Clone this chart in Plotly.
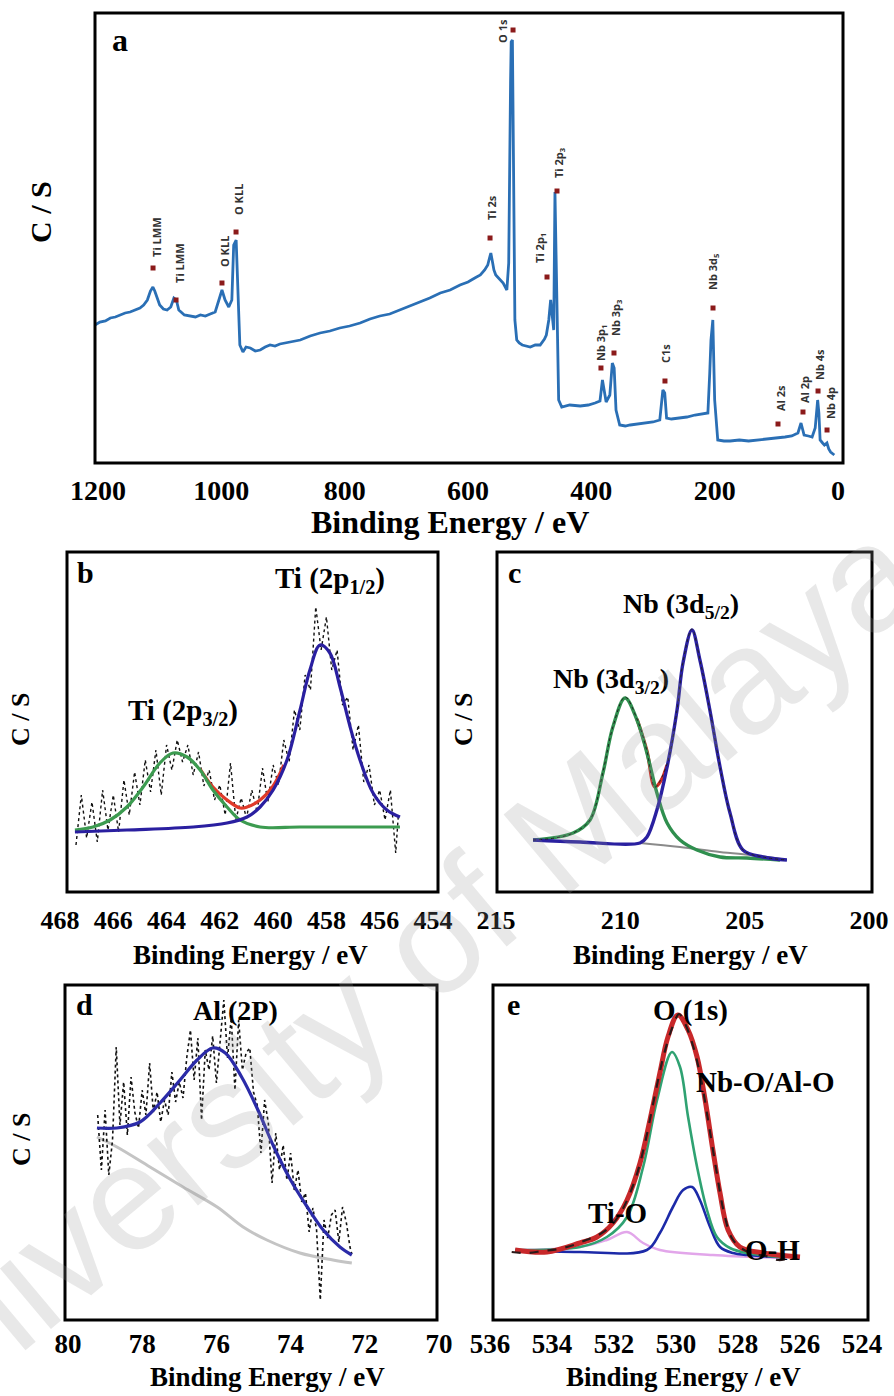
import plotly.graph_objects as go

W, H = 894, 1396


def px(x):
    return x / W


def py(y):
    return 1 - y / H


SERIF = "Liberation Serif"

# ---------------- (a) survey spectrum ----------------
survey_be = [1205, 1197, 1188, 1180, 1172, 1164, 1156, 1148, 1140, 1132, 1126, 1120, 1115, 1111,
             1108, 1105, 1100, 1094, 1088, 1082, 1077, 1073, 1069, 1060, 1050, 1042, 1034, 1026,
             1018, 1010, 1004, 999, 994, 988, 983, 980, 976, 973, 970, 965, 960, 953, 945, 937,
             929, 921, 913, 905, 890, 872, 856, 840, 824, 808, 792, 775, 759, 743, 727, 710, 694,
             678, 662, 645, 629, 613, 600, 589, 580, 573, 568, 566, 563, 560, 558, 555, 551, 547,
             543, 537, 534, 531, 530, 528, 526, 524, 521, 517, 512, 505, 499, 491, 483, 476, 473,
             469, 466, 463, 461, 459, 457, 455, 453, 448, 435, 418, 405, 394, 386, 382, 380, 376,
             370, 366, 363, 360, 354, 345, 337, 325, 313, 300, 289, 284, 281, 278, 270, 256, 245,
             232, 220, 211, 208, 206, 203, 200, 195, 185, 175, 160, 145, 127, 110, 98, 86, 75, 65,
             60, 57, 55, 48, 42, 37, 33, 31, 29, 25, 22, 18, 15, 12, 9, 6]
survey_cs = [138, 141, 142, 145, 146, 148, 150, 151, 153, 155, 158, 163, 172, 176,
             172, 166, 158, 154, 153, 156, 165, 163, 153, 148, 147, 146, 148, 147,
             149, 151, 163, 173, 163, 156, 163, 218, 223, 163, 118, 111, 116, 115, 112, 113,
             116, 118, 117, 119, 121, 123, 127, 130, 132, 135, 137, 140, 144, 147, 149, 153, 157,
             161, 165, 170, 173, 178, 181, 185, 188, 193, 198, 203, 210, 200, 193, 188, 185, 182,
             180, 173, 200, 380, 421, 423, 300, 143, 123, 120, 118, 117, 116, 118, 118, 124, 128,
             143, 163, 145, 133, 271, 200, 130, 63, 56, 58, 57, 58, 60, 62, 83, 75, 61,
             68, 100, 95, 53, 38, 37, 38, 39, 40, 41, 43, 73, 70, 45, 44, 45, 46,
             48, 49, 50, 90, 123, 143, 63, 23, 22, 22, 23, 22, 23, 24, 25, 26, 27, 30,
             40, 34, 28, 27, 26, 35, 63, 50, 23, 20, 18, 20, 14, 11, 9, 8]

peak_names = ["Ti LMM", "Ti LMM", "O KLL", "O KLL", "Ti 2s", "O 1s", "Ti 2p<sub>1</sub>",
              "Ti 2p<sub>3</sub>", "Nb 3p<sub>1</sub>", "Nb 3p<sub>3</sub>", "C1s",
              "Nb 3d<sub>5</sub>", "Al 2s", "Al 2p", "Nb 4s", "Nb 4p"]
peak_mark_be = [1110.8, 1073.5, 999.0, 976.2, 564.3, 527.0, 471.9, 455.7, 384.4, 363.3, 280.6,
                202.7, 97.3, 56.8, 32.4, 17.8]
peak_mark_cs = [195, 163, 180, 231, 225, 433, 186, 272, 95, 110, 82, 155, 39, 51, 72, 33]
peak_text_be = [1106.0, 1068.7, 995.7, 973.0, 562.7, 545.0, 483.3, 452.4, 384.4, 360.0, 280.6,
                202.7, 94.1, 55.2, 30.8, 13.0]
peak_text_cs = [226, 200, 211, 263, 255, 432, 215, 300, 120, 145, 110, 191, 65, 74, 98, 60]

# ---------------- (b) Ti 2p ----------------
ti_be = [467.4, 467.2, 467.0, 466.8, 466.6, 466.4, 466.2, 466.0, 465.8, 465.6, 465.4, 465.2,
         465.0, 464.8, 464.6, 464.4, 464.2, 464.0, 463.8, 463.6, 463.4, 463.2, 463.0, 462.8,
         462.6, 462.4, 462.2, 462.0, 461.8, 461.6, 461.4, 461.2, 461.0, 460.8, 460.6, 460.4,
         460.2, 460.0, 459.8, 459.6, 459.4, 459.2, 459.0, 458.8, 458.6, 458.4, 458.2, 458.0,
         457.8, 457.6, 457.4, 457.2, 457.0, 456.8, 456.6, 456.4, 456.2, 456.0, 455.8, 455.6,
         455.4, 455.3]
ti_cs = [47, 97, 54, 90, 50, 102, 62, 97, 60, 112, 77, 120, 87, 132, 100, 142, 97, 147, 122,
         152, 130, 147, 117, 140, 106, 122, 92, 107, 77, 129, 72, 94, 74, 102, 80, 124, 90, 127,
         107, 152, 130, 182, 162, 217, 202, 285, 242, 275, 222, 242, 187, 195, 142, 167, 110, 127,
         87, 102, 72, 102, 39, 77]
ti_fit_be = [467.44, 466.76, 466.12, 465.49, 464.88, 464.25, 463.76, 463.23, 462.74, 462.26,
             461.73, 461.24, 460.49, 459.0, 457.0, 455.24]
ti_fit_32 = [62, 65, 72, 85, 105, 129, 139, 135, 122, 102, 85, 72, 65, 65, 65, 65]
ti_bg_be = [467.44, 465.49, 463.0, 461.73, 460.98, 460.49, 460.0, 459.48, 458.99, 458.62,
            458.24, 457.87, 457.49, 457.11, 456.74, 456.25, 455.73, 455.24]
ti_fit_12 = [60, 62, 65, 69, 75, 85, 102, 132, 182, 222, 247, 239, 205, 165, 132, 99, 82, 75]
ti_env_be = [462.74, 462.26, 461.73, 461.24, 460.98, 460.49, 460.0, 459.6]
ti_env = [123, 105, 92, 84, 85, 92, 106, 127]

# ---------------- (c) Nb 3d ----------------
nb_be = [213.51, 212.63, 211.90, 211.22, 210.70, 210.30, 209.81, 209.33, 208.93, 208.61,
         208.12, 207.72, 207.48, 207.12, 206.80, 206.40, 205.99, 205.59, 205.07, 204.26, 203.30]
nb_cs = [52, 54, 59, 72, 120, 165, 195, 173, 141, 105, 128, 182, 230, 263, 232, 182, 125, 79,
         42, 35, 32]
nb32_be = [213.51, 211.90, 211.22, 210.70, 210.30, 209.81, 209.33, 208.93, 208.53, 208.12,
           207.60, 206.92, 205.99, 204.91, 203.58]
nb32_cs = [52, 59, 72, 119, 165, 194, 172, 139, 99, 69, 52, 42, 35, 34, 32]
nb52_be = [213.51, 211.62, 209.21, 208.93, 208.53, 208.12, 207.72, 207.48, 207.12, 206.80,
           206.40, 205.99, 205.59, 205.07, 204.26, 203.30]
nb52_cs = [52, 50, 49, 55, 82, 125, 182, 229, 262, 232, 182, 125, 79, 42, 35, 32]
nb_bg_be = [209.21, 207.60, 206.0, 204.4, 203.30]
nb_bg_cs = [49, 45, 40, 36, 32]
# summed envelope, visible only in the valley between the two components
nb_env_be = [209.33, 208.93, 208.61, 208.35, 208.12]
nb_env_cs = [173, 141, 105, 112, 127]

# ---------------- (d) Al 2p ----------------
al_be = [79.2, 79.1, 79.0, 78.9, 78.8, 78.7, 78.6, 78.5, 78.4, 78.3, 78.2, 78.1, 78.0, 77.9,
         77.8, 77.7, 77.6, 77.5, 77.4, 77.3, 77.2, 77.1, 77.0, 76.9, 76.8, 76.7, 76.6, 76.5,
         76.4, 76.3, 76.2, 76.1, 76.0, 75.9, 75.8, 75.7, 75.6, 75.5, 75.4, 75.3, 75.2, 75.1,
         75.0, 74.9, 74.8, 74.7, 74.6, 74.5, 74.4, 74.3, 74.2, 74.1, 74.0, 73.9, 73.8, 73.7,
         73.6, 73.5, 73.4, 73.3, 73.2, 73.1, 73.0, 72.9, 72.8, 72.7, 72.6, 72.5, 72.4, 72.35]
al_cs = [205, 150, 210, 145, 180, 273, 195, 238, 185, 243, 208, 192, 230, 205,
         257, 208, 228, 198, 220, 205, 248, 218, 238, 222, 262, 290, 240, 282,
         200, 270, 250, 284, 237, 275, 320, 262, 302, 230, 300, 250, 267, 272, 228,
         215, 167, 220, 197, 137, 187, 150, 175, 140, 167, 130, 150, 118, 127, 88, 112,
         90, 20, 100, 82, 105, 110, 78, 113, 98, 73, 66]
al_fit_be = [79.22, 78.68, 78.06, 77.52, 76.98, 76.52, 76.10, 75.76, 75.32, 74.88, 74.45,
             74.0, 73.55, 73.12, 72.67, 72.35]
al_fit_cs = [192, 192, 198, 217, 240, 260, 272, 267, 243, 210, 173, 140, 113, 90, 73, 65]
al_bg_be = [79.22, 78.68, 77.79, 76.90, 75.98, 75.28, 74.64, 73.75, 72.86, 72.35]
al_bg_cs = [183, 173, 153, 133, 113, 93, 80, 67, 60, 57]

# ---------------- (e) O 1s ----------------
o_be = [535.3, 534.8, 534.3, 533.8, 533.3, 532.9, 532.5, 532.1, 531.7, 531.3, 531.0, 530.7,
        530.4, 530.1, 529.9, 529.7, 529.45, 529.2, 528.95, 528.7, 528.45, 528.2, 527.9, 527.5,
        527.1, 526.7, 526.3]
o_cs = [68, 67, 69, 71, 75, 80, 85, 94, 112, 142, 177, 222, 264, 294, 306, 296, 274, 242, 197,
        150, 107, 82, 72, 66, 64, 60, 62]
o_env_be = [535.19, 534.16, 533.1, 532.55, 532.03, 531.58, 531.16, 530.84, 530.52, 530.26,
            529.94, 529.61, 529.32, 529.06, 528.81, 528.58, 528.32, 527.94, 527.19, 526.0]
o_env_cs = [70, 68, 77, 83, 97, 120, 157, 200, 247, 283, 305, 290, 263, 220, 170, 127, 90, 73,
            67, 63]
o_nbal_be = [535.19, 533.1, 532.23, 531.58, 531.06, 530.61, 530.13, 529.87, 529.61, 529.32,
             529.0, 528.68, 528.26, 527.71, 526.65]
o_nbal_cs = [70, 73, 83, 103, 153, 220, 268, 253, 203, 153, 110, 83, 72, 67, 63]
o_oh_be = [535.19, 533.1, 530.94, 530.52, 530.1, 529.77, 529.48, 529.23, 528.9, 528.58,
           528.16, 527.71, 526.65]
o_oh_cs = [70, 68, 70, 87, 113, 130, 133, 120, 93, 73, 67, 65, 63]
o_tio_be = [535.19, 533.1, 532.23, 531.58, 531.06, 530.52, 528.81, 526.65]
o_tio_cs = [70, 73, 80, 88, 77, 70, 65, 62]

fig = go.Figure()


def line(x, y, ax, color, width, dash="solid", shape="linear"):
    fig.add_trace(go.Scatter(x=x, y=y, mode="lines", xaxis="x" + ax, yaxis="y" + ax,
                             line=dict(color=color, width=width, dash=dash, shape=shape),
                             showlegend=False, hoverinfo="skip"))


# (a)
line(survey_be, survey_cs, "", "#2a6fb5", 2.8)
fig.add_trace(go.Scatter(x=peak_mark_be, y=peak_mark_cs, mode="markers", xaxis="x", yaxis="y",
                         marker=dict(symbol="square", size=5, color="#8b1a1a"),
                         showlegend=False, hoverinfo="skip"))

# (b)
line(ti_be, ti_cs, "2", "#111111", 1.4, "dot")
line(ti_env_be, ti_env, "2", "#e03a2a", 3.2, shape="spline")
line(ti_fit_be, ti_fit_32, "2", "#3c9b50", 3.2, shape="spline")
line(ti_bg_be, ti_fit_12, "2", "#2a1fa0", 3.2, shape="spline")

# (c)
line(nb_env_be, nb_env_cs, "3", "#d02a22", 3.4, shape="spline")
line(nb_bg_be, nb_bg_cs, "3", "#8a8a8a", 2, shape="spline")
line(nb32_be, nb32_cs, "3", "#2f8f4e", 3.4, shape="spline")
line(nb52_be, nb52_cs, "3", "#2a20a0", 3.4, shape="spline")
line(nb_be, nb_cs, "3", "#222222", 1.0, "dot", shape="spline")

# (d)
line(al_bg_be, al_bg_cs, "4", "#c4c4c4", 3, shape="spline")
line(al_be, al_cs, "4", "#111111", 1.6, "dot")
line(al_fit_be, al_fit_cs, "4", "#2b2ba8", 3.2, shape="spline")

# (e)
line(o_tio_be, o_tio_cs, "5", "#e2a6ea", 2.4, shape="spline")
line(o_oh_be, o_oh_cs, "5", "#1c2aa8", 2.6, shape="spline")
line(o_nbal_be, o_nbal_cs, "5", "#2fa272", 2.6, shape="spline")
line(o_env_be, o_env_cs, "5", "#c8282a", 5, shape="spline")
line(o_be, o_cs, "5", "#2a1a1a", 2.2, "dash", shape="spline")

annotations = []


def text(x, y, t, size, angle=0, family=SERIF, color="black", xanchor="center",
         yanchor="middle", xref="paper", yref="paper"):
    annotations.append(dict(x=x, y=y, xref=xref, yref=yref, text=t, showarrow=False,
                            textangle=angle, xanchor=xanchor, yanchor=yanchor,
                            font=dict(family=family, size=size, color=color)))


for name, bx, cy in zip(peak_names, peak_text_be, peak_text_cs):
    text(bx, cy, "<b>" + name + "</b>", 11, angle=-90, family="Open Sans", color="#333333",
         xref="x", yref="y")

# panel letters
text(px(120), py(40), "<b>a</b>", 32)
text(px(85), py(572), "<b>b</b>", 30)
text(px(514), py(572), "<b>c</b>", 30)
text(px(84), py(1005), "<b>d</b>", 30)
text(px(513), py(1005), "<b>e</b>", 30)

# axis titles
text(px(450), py(522), "<b>Binding Energy / eV</b>", 32)
for cx, cy in [(250, 955), (690, 955), (267, 1377), (683, 1377)]:
    text(px(cx), py(cy), "<b>Binding Energy / eV</b>", 27)
text(px(40), py(212), "<b>C / S</b>", 30, angle=-90)
for cx, cy in [(20, 720), (463, 720), (21, 1140)]:
    text(px(cx), py(cy), "<b>C / S</b>", 26, angle=-90)

# peak labels
text(px(330), py(580), "<b>Ti (2p<sub>1/2</sub>)</b>", 29)
text(px(183), py(712), "<b>Ti (2p<sub>3/2</sub>)</b>", 29)
text(px(681), py(605), "<b>Nb (3d<sub>5/2</sub>)</b>", 28)
text(px(611), py(680), "<b>Nb (3d<sub>3/2</sub>)</b>", 28)
text(px(235), py(1010), "<b>Al (2P)</b>", 28)
text(px(690), py(1010), "<b>O (1s)</b>", 29)
text(px(765), py(1082), "<b>Nb-O/Al-O</b>", 29)
text(px(617), py(1213), "<b>Ti-O</b>", 29)
text(px(772), py(1250), "<b>O-H</b>", 29)

# watermark
text(px(380), py(985), "University of Malaya", 150, angle=-40, family="Liberation Sans",
     color="rgba(150,150,150,0.22)")

# panel frames
frames = [(95, 13, 843, 463), (67, 552, 438, 892), (497, 552, 872, 892),
          (65, 985, 437, 1320), (493, 985, 868, 1320)]
shapes = [dict(type="rect", xref="paper", yref="paper", x0=px(x0), x1=px(x1), y0=py(y1),
               y1=py(y0), line=dict(color="black", width=3), layer="above")
          for x0, y0, x1, y1 in frames]


def xax(dom, rng, vals, size, tlen, anchor):
    return dict(domain=[px(dom[0]), px(dom[1])], range=rng, tickvals=vals,
                ticktext=[str(v) for v in vals], ticks="outside", ticklen=tlen,
                tickcolor="rgba(0,0,0,0)", showline=False, showgrid=False, zeroline=False,
                tickfont=dict(family=SERIF, size=size, color="black", weight="bold"),
                fixedrange=True, automargin=False, anchor=anchor)


def yax(top, bottom, anchor):
    return dict(domain=[py(bottom), py(top)], range=[0, bottom - top], visible=False,
                showgrid=False, zeroline=False, anchor=anchor, fixedrange=True,
                automargin=False)


fig.update_layout(
    width=W, height=H, margin=dict(l=0, r=0, t=0, b=0, autoexpand=False),
    paper_bgcolor="white", plot_bgcolor="rgba(0,0,0,0)",
    xaxis=xax((95, 843), [1204.9, -8.1], [1200, 1000, 800, 600, 400, 200, 0], 28, 2, "y"),
    yaxis=yax(13, 463, "x"),
    xaxis2=xax((60, 433), [468, 454], [468, 466, 464, 462, 460, 458, 456, 454], 26, 5, "y2"),
    yaxis2=yax(552, 892, "x2"),
    xaxis3=xax((496, 869), [215, 200], [215, 210, 205, 200], 26, 5, "y3"),
    yaxis3=yax(552, 892, "x3"),
    xaxis4=xax((68, 439), [80, 70], [80, 78, 76, 74, 72, 70], 27, 0, "y4"),
    yaxis4=yax(985, 1320, "x4"),
    xaxis5=xax((490, 862), [536, 524], [536, 534, 532, 530, 528, 526, 524], 27, 0, "y5"),
    yaxis5=yax(985, 1320, "x5"),
    annotations=annotations,
    shapes=shapes,
)

fig.write_html("out.html")
